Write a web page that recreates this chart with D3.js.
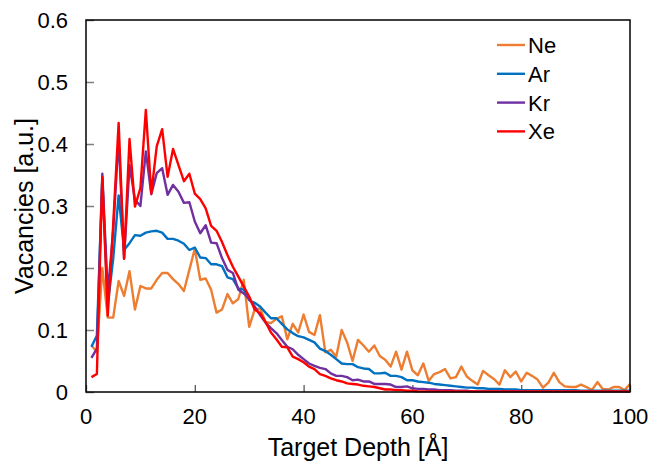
<!DOCTYPE html>
<html>
<head>
<meta charset="utf-8">
<script src="https://cdn.jsdelivr.net/npm/d3@7"></script>
<style>
  body { margin: 0; background: #fff; }
  text { font-family: "Liberation Sans", Arial, sans-serif; fill: #000; }
</style>
</head>
<body>
<svg id="chart" width="653" height="463"></svg>
<script>
// depth grid [Å]
const depth = [1,2,3,4,5,6,7,8,9,10,11,12,13,14,15,16,17,18,19,20,21,22,23,24,25,26,27,28,29,30,
  31,32,33,34,35,36,37,38,39,40,41,42,43,44,45,46,47,48,49,50,51,52,53,54,55,56,57,58,59,60,
  61,62,63,64,65,66,67,68,69,70,71,72,73,74,75,76,77,78,79,80,81,82,83,84,85,86,87,88,89,90,
  91,92,93,94,95,96,97,98,99,100];

const ne = [0.075,0.065,0.200,0.120,0.120,0.179,0.155,0.195,0.133,0.171,0.167,0.167,0.181,0.192,0.192,0.182,0.174,0.163,0.197,0.231,
  0.181,0.183,0.165,0.128,0.133,0.158,0.143,0.150,0.181,0.105,0.133,0.135,0.113,0.111,0.118,0.122,0.085,0.110,0.096,0.125,
  0.097,0.092,0.124,0.064,0.068,0.057,0.100,0.080,0.050,0.084,0.075,0.065,0.075,0.058,0.052,0.041,0.065,0.036,0.065,0.035,
  0.027,0.046,0.018,0.029,0.032,0.037,0.022,0.024,0.041,0.025,0.018,0.012,0.034,0.027,0.021,0.012,0.035,0.024,0.033,0.017,
  0.031,0.026,0.020,0.007,0.015,0.031,0.016,0.009,0.008,0.008,0.012,0.008,0.003,0.016,0.005,0.004,0.008,0.008,0.003,0.013];

const ar = [0.073,0.091,0.345,0.140,0.215,0.317,0.229,0.240,0.253,0.252,0.257,0.259,0.260,0.257,0.247,0.247,0.244,0.239,0.229,0.233,
  0.217,0.216,0.206,0.206,0.203,0.185,0.182,0.167,0.165,0.148,0.144,0.138,0.128,0.119,0.119,0.110,0.101,0.095,0.090,0.088,
  0.084,0.080,0.070,0.066,0.060,0.053,0.046,0.045,0.045,0.040,0.038,0.037,0.030,0.030,0.031,0.026,0.026,0.024,0.019,0.019,
  0.017,0.016,0.015,0.013,0.012,0.011,0.010,0.009,0.008,0.007,0.007,0.006,0.006,0.005,0.005,0.005,0.004,0.004,0.004,0.003,
  0.003,0.003,0.003,0.003,0.003,0.003,0.003,0.003,0.003,0.003,0.002,0.002,0.002,0.002,0.002,0.002,0.002,0.002,0.002,0.002];

const kr = [0.055,0.070,0.352,0.159,0.260,0.410,0.215,0.366,0.310,0.300,0.388,0.319,0.353,0.361,0.318,0.334,0.323,0.305,0.306,0.275,
  0.256,0.269,0.241,0.240,0.216,0.197,0.192,0.165,0.159,0.150,0.138,0.124,0.112,0.103,0.095,0.084,0.073,0.069,0.060,0.053,
  0.046,0.042,0.039,0.037,0.030,0.026,0.026,0.024,0.019,0.020,0.017,0.017,0.013,0.013,0.013,0.012,0.008,0.008,0.009,0.006,
  0.005,0.005,0.004,0.004,0.003,0.003,0.003,0.002,0.002,0.002,0.001,0.001,0.001,0.001,0.001,0.001,0.001,0.001,0.001,0.001,
  0.001,0.001,0.001,0.001,0.001,0.001,0.001,0.001,0.001,0.001,0.001,0.001,0.001,0.001,0.001,0.001,0.001,0.001,0.001,0.001];

const xe = [0.024,0.029,0.347,0.123,0.270,0.434,0.215,0.408,0.299,0.329,0.455,0.320,0.396,0.424,0.347,0.392,0.366,0.340,0.352,0.320,
  0.311,0.296,0.268,0.260,0.242,0.221,0.202,0.186,0.170,0.154,0.133,0.127,0.113,0.096,0.085,0.073,0.072,0.057,0.053,0.048,
  0.041,0.037,0.029,0.026,0.022,0.019,0.017,0.014,0.013,0.012,0.010,0.009,0.008,0.006,0.004,0.004,0.003,0.003,0.002,0.002,
  0.001,0.001,0.001,0.001,0.001,0.001,0.001,0.001,0.001,0.001,0.001,0.001,0.001,0.001,0.001,0.001,0.001,0.001,0.001,0.001,
  0.001,0.001,0.001,0.001,0.001,0.001,0.001,0.001,0.001,0.001,0.001,0.001,0.001,0.001,0.001,0.001,0.001,0.001,0.001,0.001];

const seriesNames = ["Ne", "Ar", "Kr", "Xe"];
const seriesColors = ["#ED7D31", "#0070C0", "#7030A0", "#FF0000"];
const seriesValues = [ne, ar, kr, xe];

const xTicks = [0, 20, 40, 60, 80, 100];
const yTicks = [0, 0.1, 0.2, 0.3, 0.4, 0.5, 0.6];

var svg = d3.select("#chart");
const margin = { top: 20, right: 23, bottom: 71, left: 86 };
const width = +svg.attr("width") - margin.left - margin.right;
const height = +svg.attr("height") - margin.top - margin.bottom;

var x = d3.scaleLinear().domain([0, 100]).range([margin.left, margin.left + width]);
var y = d3.scaleLinear().domain([0, 0.6]).range([margin.top + height, margin.top]);

// inner ticks
svg.append("g")
  .attr("transform", `translate(0,${margin.top + height})`)
  .call(d3.axisBottom(x).tickValues(xTicks).tickSizeInner(-7).tickSizeOuter(0).tickFormat(""))
  .call(g => g.select(".domain").remove())
  .selectAll("line").attr("stroke", "#595959").attr("stroke-width", 1.3);

svg.append("g")
  .attr("transform", `translate(${margin.left},0)`)
  .call(d3.axisLeft(y).tickValues(yTicks).tickSizeInner(-8).tickSizeOuter(0).tickFormat(""))
  .call(g => g.select(".domain").remove())
  .selectAll("line").attr("stroke", "#7f7f7f").attr("stroke-width", 1.5);

// tick labels
svg.append("g").selectAll("text")
  .data(xTicks).join("text")
  .attr("x", d => x(d))
  .attr("y", 424)
  .attr("text-anchor", "middle")
  .style("font-size", "22px")
  .text(d => d);

svg.append("g").selectAll("text")
  .data(yTicks).join("text")
  .attr("x", 68)
  .attr("y", d => y(d))
  .attr("dy", "0.36em")
  .attr("text-anchor", "end")
  .style("font-size", "22px")
  .text(d => d3.format("")(d));

// lines
var line = d3.line()
  .x((d, i) => x(depth[i]))
  .y(d => y(d));

svg.append("g").selectAll("path")
  .data(seriesValues).join("path")
  .attr("d", d => line(d))
  .attr("fill", "none")
  .attr("stroke", (d, i) => seriesColors[i])
  .attr("stroke-width", 2.4)
  .attr("stroke-linejoin", "round");

// frame
svg.append("rect")
  .attr("x", margin.left)
  .attr("y", margin.top)
  .attr("width", width)
  .attr("height", height)
  .attr("fill", "none")
  .attr("stroke", "#000")
  .attr("stroke-width", 1.5);

// axis titles
svg.append("text")
  .attr("x", margin.left + width / 2)
  .attr("y", 456)
  .attr("text-anchor", "middle")
  .style("font-size", "25px")
  .text("Target Depth [Å]");

svg.append("text")
  .attr("transform", `translate(33,${margin.top + height / 2}) rotate(-90)`)
  .attr("text-anchor", "middle")
  .style("font-size", "25px")
  .text("Vacancies [a.u.]");

// legend
var legend = svg.append("g").selectAll("g")
  .data(seriesNames).join("g")
  .attr("transform", (d, i) => `translate(497,${45 + i * 28.8})`);

legend.append("line")
  .attr("x1", 0).attr("x2", 28)
  .attr("stroke", (d, i) => seriesColors[i])
  .attr("stroke-width", 2.4);

legend.append("text")
  .attr("x", 31)
  .attr("dy", "0.36em")
  .style("font-size", "22px")
  .text(d => d);
</script>
</body>
</html>
